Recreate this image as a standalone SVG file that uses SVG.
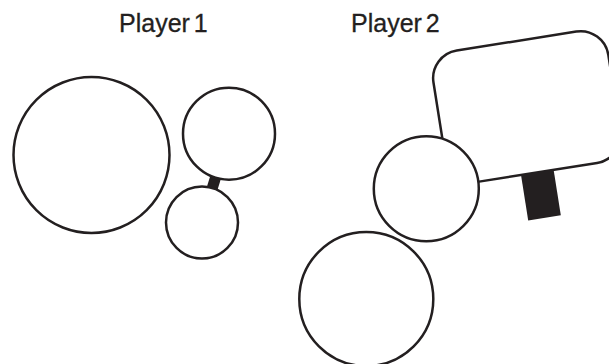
<svg xmlns="http://www.w3.org/2000/svg" width="609" height="364" viewBox="0 0 609 364">
<style>
.o{fill:#fff;stroke:#231f20;stroke-width:2.5}
.b{fill:#231f20}
.t{font-family:"Liberation Sans",Arial,sans-serif;font-size:25px;fill:#231f20;stroke:#231f20;stroke-width:0.3;word-spacing:-3px}
</style>
<g id="label-player1"><text class="t" x="119" y="32">Player 1</text></g>
<g id="label-player2"><text class="t" x="351" y="32">Player 2</text></g>
<g id="connectors">
<rect class="b" x="-5.5" y="-8" width="11" height="16" transform="translate(214,182.5) rotate(17)"/>
<g transform="translate(429.1,54.9) rotate(-9)">
<rect id="p2-box" class="o" x="0" y="0" width="177" height="133" rx="28" ry="28"/>
<rect class="b" x="72" y="133" width="33" height="46"/>
</g>
</g>
<g id="p1-big"><circle class="o" cx="91.5" cy="155" r="78"/></g>
<g id="p1-top"><circle class="o" cx="229" cy="133.7" r="46"/></g>
<g id="p1-bottom"><circle class="o" cx="202" cy="222.5" r="36"/></g>
<g id="p2-mid"><circle class="o" cx="426.3" cy="188.7" r="52.5"/></g>
<g id="p2-low"><circle class="o" cx="366.3" cy="299" r="67"/></g>
</svg>
